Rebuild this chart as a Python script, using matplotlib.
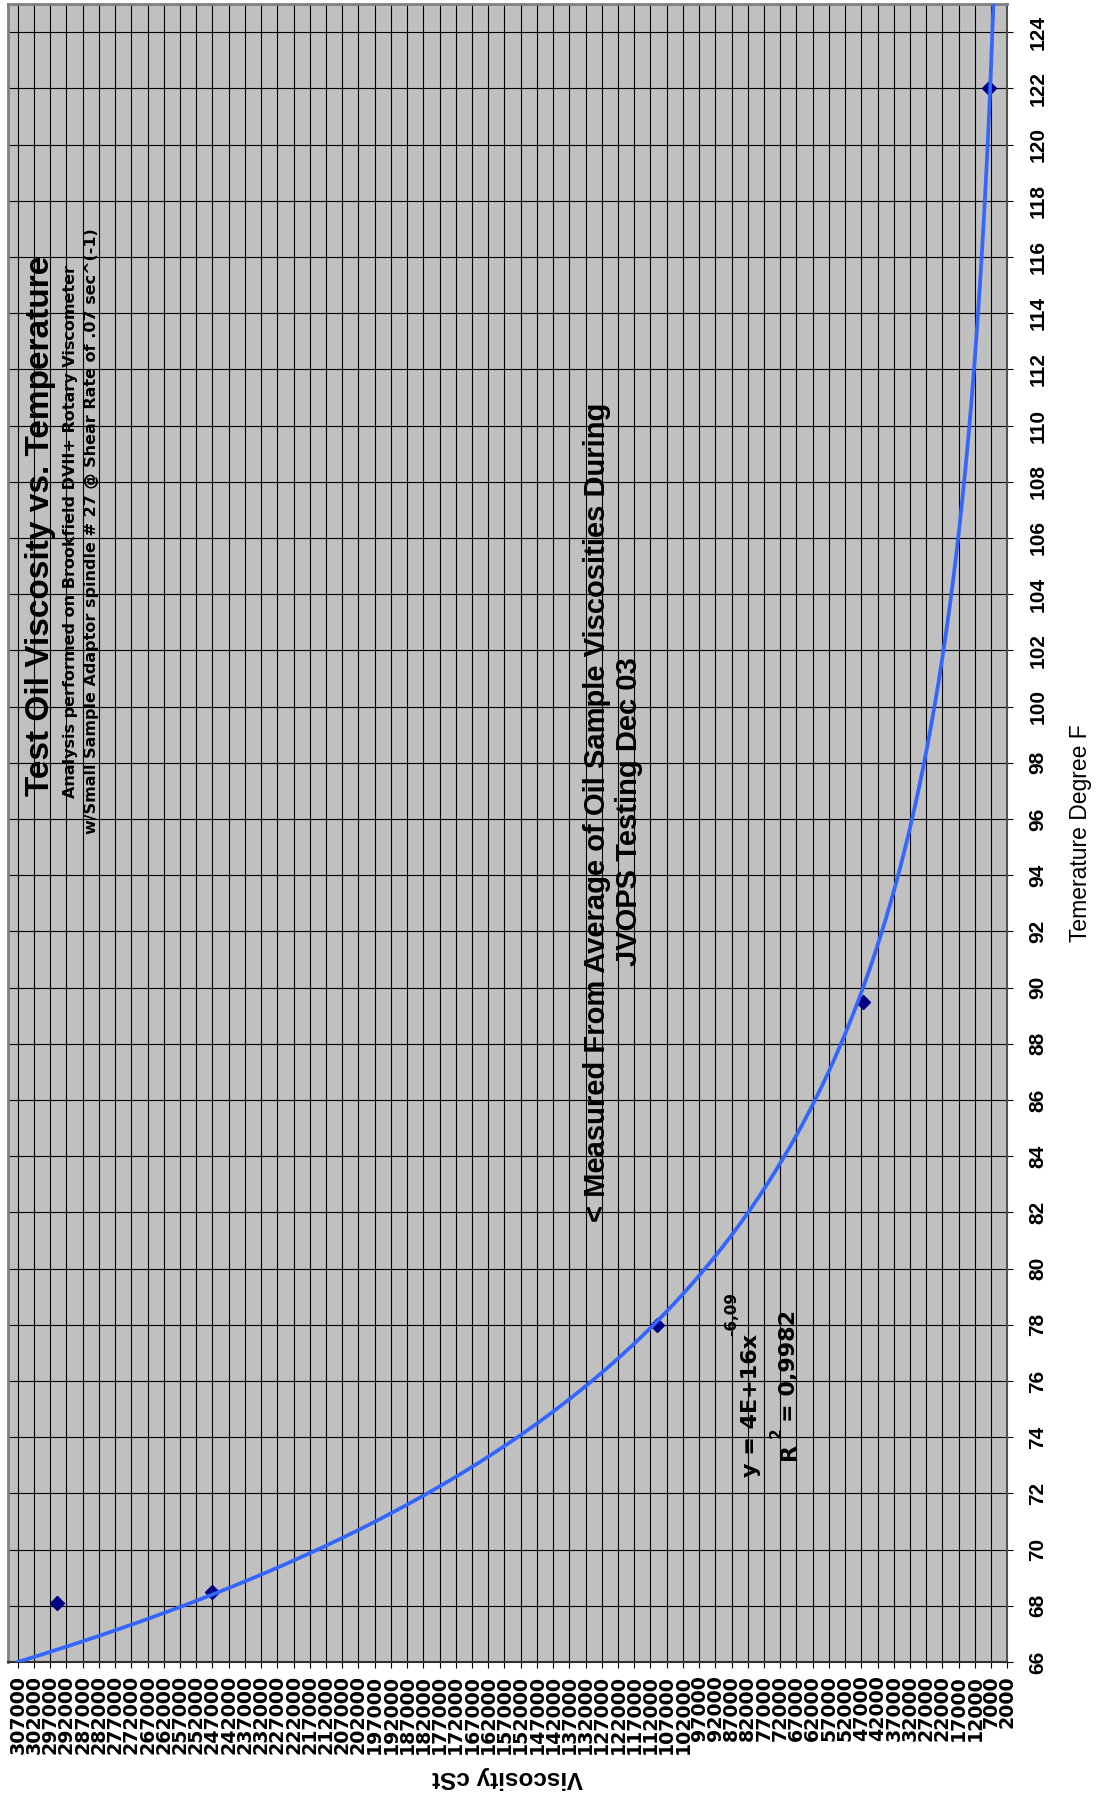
import numpy as np
import matplotlib.pyplot as plt

# averaged viscosity readings (cSt) at each test temperature (deg F)
temperature_f = [68.1, 68.5, 78.0, 89.5, 122.0]
viscosity_cst = [295000, 247000, 110000, 46500, 7600]

# power trendline y = a * x^b
trend_coef = 3.7e16
trend_exp = -6.09
trend_r2 = 0.9982

visc_ticks = list(range(2000, 310000, 5000))
temp_ticks = list(range(66, 125, 2))

title = "Test Oil Viscosity vs. Temperature"
subtitle_1 = "Analysis performed on Brookfield DVII+ Rotary Viscometer"
subtitle_2 = "w/Small Sample Adaptor spindle # 27 @ Shear Rate of .07 sec^(-1)"
note_text = "< Measured From Average of Oil Sample Viscosities During\nJVOPS Testing Dec 03"

W, H = 1098, 1794


def px(x, y):
    """Pixel position on the page -> figure fraction."""
    return x / W, 1 - y / H


def plot_viscosity():
    fig = plt.figure(figsize=(W / 100, H / 100), dpi=100)
    # page is laid out sideways: temperature runs up the right edge,
    # viscosity runs along the bottom (high values on the left)
    ax = fig.add_axes([8 / W, 1 - 1662 / H, 999.3 / W, 1658 / H])
    ax.set_facecolor("#C0C0C0")

    t = np.linspace(66, 125, 400)
    ax.plot(trend_coef * t ** trend_exp, t, color="#3366FF", lw=2.7, zorder=4)
    ax.plot(viscosity_cst, temperature_f, "D", color="#000080", ms=7, zorder=3)

    ax.set_xlim(310000, 2000)
    ax.set_ylim(66, 125)

    ax.set_xticks(visc_ticks)
    ax.set_xticklabels([str(v) for v in visc_ticks], rotation=90, va="top",
                       fontsize=13.7, fontweight="bold", family="DejaVu Sans")
    ax.yaxis.tick_right()
    ax.set_yticks(temp_ticks)
    ax.set_yticklabels([str(v) for v in temp_ticks], rotation=90, va="center",
                       fontsize=15, fontweight="bold", family="Liberation Sans")
    ax.tick_params(axis="x", length=4.3, width=0.8, pad=5)
    ax.tick_params(axis="y", length=4.3, width=0.8, pad=11)

    ax.set_axisbelow(True)
    ax.grid(True, color="black", lw=0.8)

    ax.spines["left"].set_color("#808080")
    ax.spines["top"].set_color("#808080")
    ax.spines["left"].set_linewidth(2)
    ax.spines["top"].set_linewidth(2)
    ax.spines["right"].set_color("#505050")
    ax.spines["bottom"].set_color("#303030")
    ax.spines["right"].set_linewidth(1.5)
    ax.spines["bottom"].set_linewidth(1.5)

    # titles
    fig.text(*px(41, 526), title, rotation=90, ha="center", va="center",
             fontsize=24, fontweight="bold", family="Liberation Sans")
    fig.text(*px(71, 531), subtitle_1, rotation=90, ha="center", va="center",
             fontsize=11.5, fontweight="bold", family="DejaVu Sans")
    fig.text(*px(92, 531), subtitle_2, rotation=90, ha="center", va="center",
             fontsize=11.5, fontweight="bold", family="DejaVu Sans")

    fig.text(*px(613, 812), note_text, rotation=90, ha="center", va="center",
             multialignment="center", linespacing=1.2,
             fontsize=21, fontweight="bold", family="Liberation Sans")

    # trendline equation and fit
    eq_main = f"y = {trend_coef:.0E}x"
    eq_exp = f"{trend_exp:.2f}".replace(".", ",")
    r2_value = "= " + f"{trend_r2:.4f}".replace(".", ",")
    fig.text(*px(751, 1477), eq_main, rotation=90, ha="center", va="bottom",
             fontsize=16, fontweight="bold", family="DejaVu Sans")
    fig.text(*px(732, 1336), eq_exp, rotation=90, ha="center", va="bottom",
             fontsize=11, fontweight="bold", family="DejaVu Sans")
    fig.text(*px(789, 1460), "R", rotation=90, ha="center", va="bottom",
             fontsize=16, fontweight="bold", family="DejaVu Sans")
    fig.text(*px(776, 1438), "2", rotation=90, ha="center", va="bottom",
             fontsize=11, fontweight="bold", family="DejaVu Sans")
    fig.text(*px(789, 1422), r2_value, rotation=90, ha="center", va="bottom",
             fontsize=16, fontweight="bold", family="DejaVu Sans")

    # axis titles
    fig.text(*px(1081, 833), "Temerature Degree F", rotation=90, ha="center",
             va="center", fontsize=16.5, family="Liberation Sans")
    fig.text(*px(508, 1777), "Viscosity cSt", rotation=180, ha="center",
             va="center", fontsize=17.5, fontweight="bold", family="Liberation Sans")

    fig.savefig("out.png", dpi=100)


if __name__ == "__main__":
    plot_viscosity()
